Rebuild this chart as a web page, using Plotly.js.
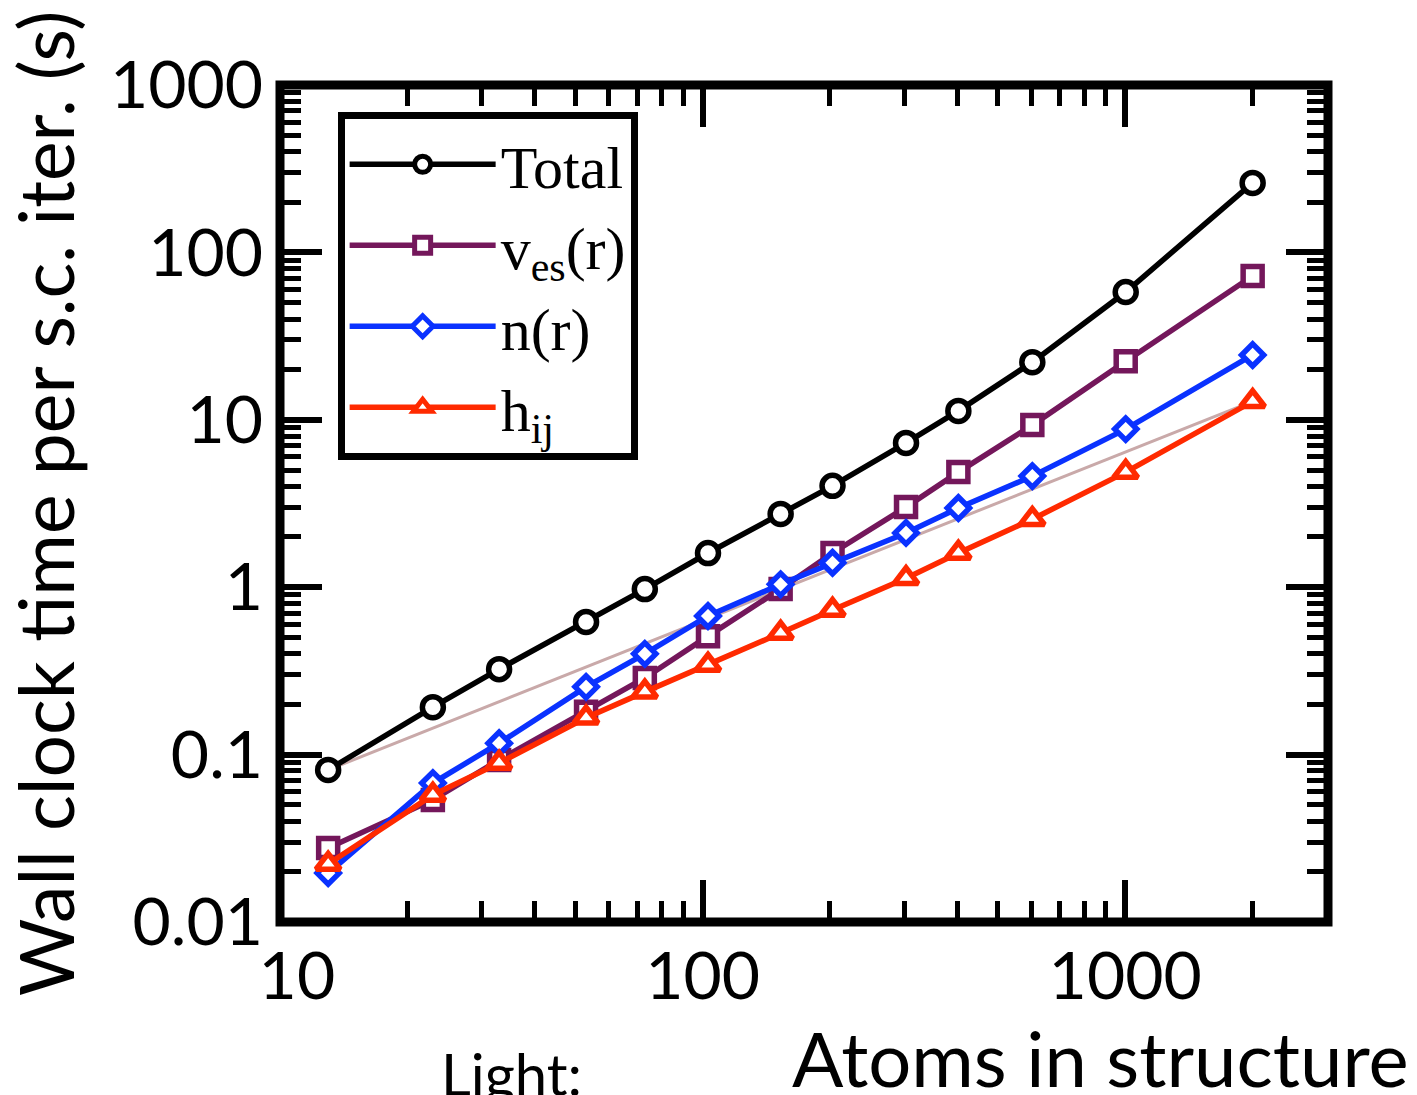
<!DOCTYPE html>
<html>
<head>
<meta charset="utf-8">
<script src="https://cdn.plot.ly/plotly-3.0.1.min.js"></script>
<style>
  html, body { margin: 0; padding: 0; background: #ffffff; }
  #chart { width: 1417px; height: 1095px; }
</style>
</head>
<body>
<div id="chart"></div>
<script>
// Atoms in structure (x values)
const atoms = [13, 23, 33, 53, 73, 103, 153, 203, 303, 403, 603, 1003, 2003];
// Wall clock time per s.c. iteration (s)
const totalTime = [0.081, 0.192, 0.324, 0.62, 0.975, 1.6, 2.74, 4.03, 7.27, 11.3, 22.1, 58, 260];
const vesTime   = [0.0277, 0.0536, 0.093, 0.18, 0.287, 0.51, 0.975, 1.6, 3.01, 4.87, 9.3, 22.4, 72.3];
const nTime     = [0.0196, 0.0676, 0.117, 0.254, 0.40, 0.673, 1.04, 1.40, 2.11, 2.97, 4.61, 8.8, 24.4];
const hTime     = [0.0222, 0.0574, 0.089, 0.166, 0.237, 0.343, 0.532, 0.73, 1.13, 1.6, 2.55, 4.87, 12.9];
// Linear-scaling guide line
const refX = [13, 2003];
const refY = [0.081, 12.9];
// Tick labels
const xTickVals = [10, 100, 1000];
const xTickText = ['\u00a0\u00a010', '100', '1000'];
const yTickVals = [0.01, 0.1, 1, 10, 100, 1000];
const yTickText = ['0.01', '0.1', '1', '10', '100', '1000'];
const seriesNames = ['Total', 'v<sub>es</sub>(r)', 'n(r)', 'h<sub>ij</sub>'];

const LW = 5.5;
const traces = [
  { x: refX, y: refY, mode: 'lines', line: { color: '#c9a9a9', width: 3 }, showlegend: false, hoverinfo: 'skip' },
  { x: atoms, y: totalTime, name: seriesNames[0], mode: 'lines+markers',
    line: { color: '#000000', width: LW },
    marker: { symbol: 'circle', size: 21, color: '#ffffff', line: { color: '#000000', width: LW } } },
  { x: atoms, y: vesTime, name: seriesNames[1], mode: 'lines+markers',
    line: { color: '#74175b', width: LW },
    marker: { symbol: 'square', size: 19, color: '#ffffff', line: { color: '#74175b', width: LW } } },
  { x: atoms, y: nTime, name: seriesNames[2], mode: 'lines+markers',
    line: { color: '#0a32ff', width: LW },
    marker: { symbol: 'diamond', size: 17, color: '#ffffff', line: { color: '#0a32ff', width: LW } } },
  { x: atoms, y: hTime, name: seriesNames[3], mode: 'lines+markers',
    line: { color: '#ff2a00', width: LW },
    marker: { symbol: 'triangle-up', size: 21, color: '#ffffff', line: { color: '#ff2a00', width: LW } } }
];

const axisFont = { family: 'Lato, sans-serif', size: 66, color: '#000000' };
const minorTicks = { ticks: 'inside', ticklen: 21, tickwidth: 5, tickcolor: '#000000', dtick: 'D1', showgrid: false };

const layout = {
  width: 1417, height: 1095,
  margin: { l: 280, r: 89, t: 85, b: 173, pad: 0 },
  paper_bgcolor: '#ffffff', plot_bgcolor: '#ffffff',
  showlegend: true,
  xaxis: {
    type: 'log', range: [1, Math.log10(3020)],
    tickmode: 'array', tickvals: xTickVals, ticktext: xTickText,
    ticks: 'inside', ticklen: 42, tickwidth: 6, tickcolor: '#000000',
    mirror: 'ticks', showline: false, showgrid: false, zeroline: false,
    minor: minorTicks,
    tickfont: axisFont, ticklabelstandoff: 10,
    automargin: false
  },
  yaxis: {
    type: 'log', range: [-2, 3],
    tickmode: 'array', tickvals: yTickVals, ticktext: yTickText,
    ticks: 'inside', ticklen: 42, tickwidth: 6, tickcolor: '#000000',
    mirror: 'ticks', showline: false, showgrid: false, zeroline: false,
    minor: minorTicks,
    tickfont: axisFont, ticklabelstandoff: 16,
    automargin: false,
    title: { text: 'Wall clock time per s.c. iter. (s)', font: { family: 'Lato, sans-serif', size: 75, color: '#000000' }, standoff: 24 }
  },
  legend: {
    x: 0.055, y: 0.968, xanchor: 'left', yanchor: 'top',
    bgcolor: '#ffffff', bordercolor: '#000000', borderwidth: 7,
    font: { family: 'Liberation Serif, serif', size: 60, color: '#000000' },
    itemwidth: 146, tracegroupgap: 0
  },
  shapes: [
    { type: 'rect', xref: 'paper', yref: 'paper', x0: 0, x1: 1, y0: 0, y1: 1,
      line: { color: '#000000', width: 9 }, fillcolor: 'rgba(0,0,0,0)', layer: 'above' }
  ],
  annotations: [
    { text: 'Atoms in structure', xref: 'paper', yref: 'paper', x: 1.0795, y: -0.2186,
      xanchor: 'right', yanchor: 'bottom', showarrow: false,
      font: { family: 'Lato, sans-serif', size: 76, color: '#000000' } },
    { text: 'Light:', xref: 'paper', yref: 'paper', x: 0.152, y: -0.225,
      xanchor: 'left', yanchor: 'bottom', showarrow: false,
      font: { family: 'Lato, sans-serif', size: 58, color: '#000000' } }
  ]
};

Plotly.newPlot('chart', traces, layout, { displayModeBar: false, staticPlot: true });
</script>
</body>
</html>
